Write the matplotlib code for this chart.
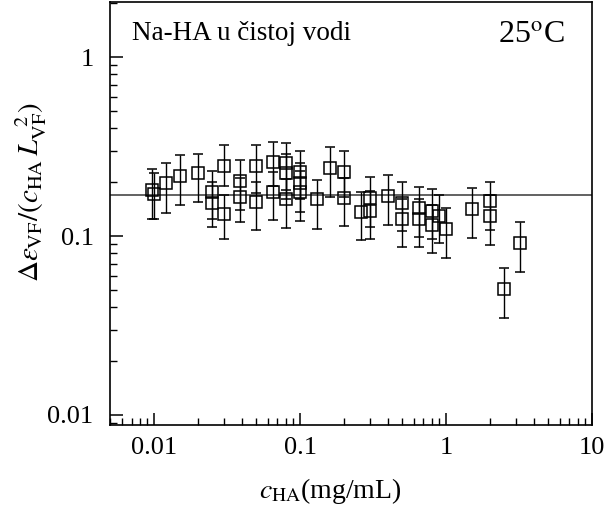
import matplotlib
matplotlib.use('Agg')
import matplotlib.pyplot as plt
import numpy as np

# Values
c_ha = [0.0097, 0.0100, 0.012, 0.015, 0.020, 0.025, 0.025, 0.030, 0.030,
        0.039, 0.039, 0.050, 0.050, 0.065, 0.065, 0.080, 0.080, 0.080,
        0.100, 0.100, 0.100, 0.13, 0.16, 0.20, 0.20, 0.26, 0.30, 0.30,
        0.40, 0.50, 0.50, 0.65, 0.65, 0.80, 0.80, 0.90, 1.00, 1.50,
        2.00, 2.00, 2.50, 3.20]
ratio = [0.180, 0.172, 0.197, 0.216, 0.224, 0.177, 0.153, 0.247, 0.133,
         0.204, 0.166, 0.246, 0.155, 0.258, 0.176, 0.255, 0.224, 0.161,
         0.229, 0.199, 0.177, 0.160, 0.241, 0.229, 0.164, 0.136, 0.164, 0.138,
         0.167, 0.153, 0.124, 0.144, 0.124, 0.138, 0.115, 0.130, 0.110, 0.142,
         0.156, 0.130, 0.0508, 0.0918]
ratio_lo = [0.124, 0.124, 0.135, 0.149, 0.155, 0.125, 0.112, 0.190, 0.096,
            0.140, 0.119, 0.175, 0.108, 0.190, 0.123, 0.180, 0.160, 0.111,
            0.160, 0.137, 0.121, 0.110, 0.166, 0.165, 0.114, 0.095, 0.112, 0.0966,
            0.115, 0.107, 0.0865, 0.099, 0.0865, 0.096, 0.080, 0.091, 0.0756, 0.098,
            0.108, 0.089, 0.035, 0.0632]
ratio_hi = [0.237, 0.225, 0.255, 0.282, 0.288, 0.232, 0.200, 0.322, 0.170,
            0.266, 0.212, 0.322, 0.200, 0.336, 0.229, 0.332, 0.287, 0.207,
            0.300, 0.255, 0.230, 0.206, 0.315, 0.299, 0.212, 0.176, 0.213, 0.178,
            0.219, 0.200, 0.160, 0.188, 0.160, 0.182, 0.150, 0.169, 0.144, 0.186,
            0.200, 0.170, 0.0665, 0.120]
mean_level = 0.169

plt.rcParams['font.family'] = ['Liberation Serif', 'DejaVu Serif']
plt.rcParams['mathtext.fontset'] = 'stix'

fig = plt.figure(figsize=(6.09, 5.15), dpi=100)
ax = fig.add_axes([0.181, 0.175, 0.791, 0.821])

y = np.array(ratio)
yerr = [y - np.array(ratio_lo), np.array(ratio_hi) - y]

ax.axhline(mean_level, color='#555555', lw=1.3, zorder=1)
ax.errorbar(c_ha, ratio, yerr=yerr, fmt='s', mfc='none', mec='black', mew=1.1,
            ms=9, ecolor='black', elinewidth=1.0, capsize=3.8, capthick=1.0, zorder=3)

ax.set_xscale('log')
ax.set_yscale('log')
ax.set_xlim(0.005, 10)
ax.set_ylim(0.0088, 2.03)

ax.set_xticks([0.01, 0.1, 1, 10])
ax.set_xticklabels(['0.01', '0.1', '1', '10'])
ax.set_yticks([0.01, 0.1, 1])
ax.set_yticklabels(['0.01', '0.1', '1'])

ax.tick_params(which='both', direction='in', top=False, right=False, labelsize=19)
ax.tick_params(which='major', length=9, width=1.1)
ax.tick_params(axis='y', which='major', pad=12)
ax.tick_params(axis='x', which='major', pad=9)
ax.tick_params(which='minor', length=5, width=1.0)
for s in ax.spines.values():
    s.set_linewidth(1.2)

ax.set_xlabel(r'$c_{\rm HA}$(mg/mL)', fontsize=20)
ax.xaxis.set_label_coords(0.456, -0.12)
ax.set_ylabel(r'$\Delta\varepsilon_{\rm VF}/(c_{\rm HA}\,L_{\rm VF}^{\ \ 2})$', fontsize=21)
ax.yaxis.set_label_coords(-0.128, 0.551)

ax.text(0.045, 0.955, 'Na-HA u čistoj vodi', transform=ax.transAxes, fontsize=19.5, va='top', ha='left')
ax.text(0.944, 0.955, r'25$^{\rm o}$C', transform=ax.transAxes, fontsize=23, va='top', ha='right')

fig.savefig('out.png', dpi=100)
